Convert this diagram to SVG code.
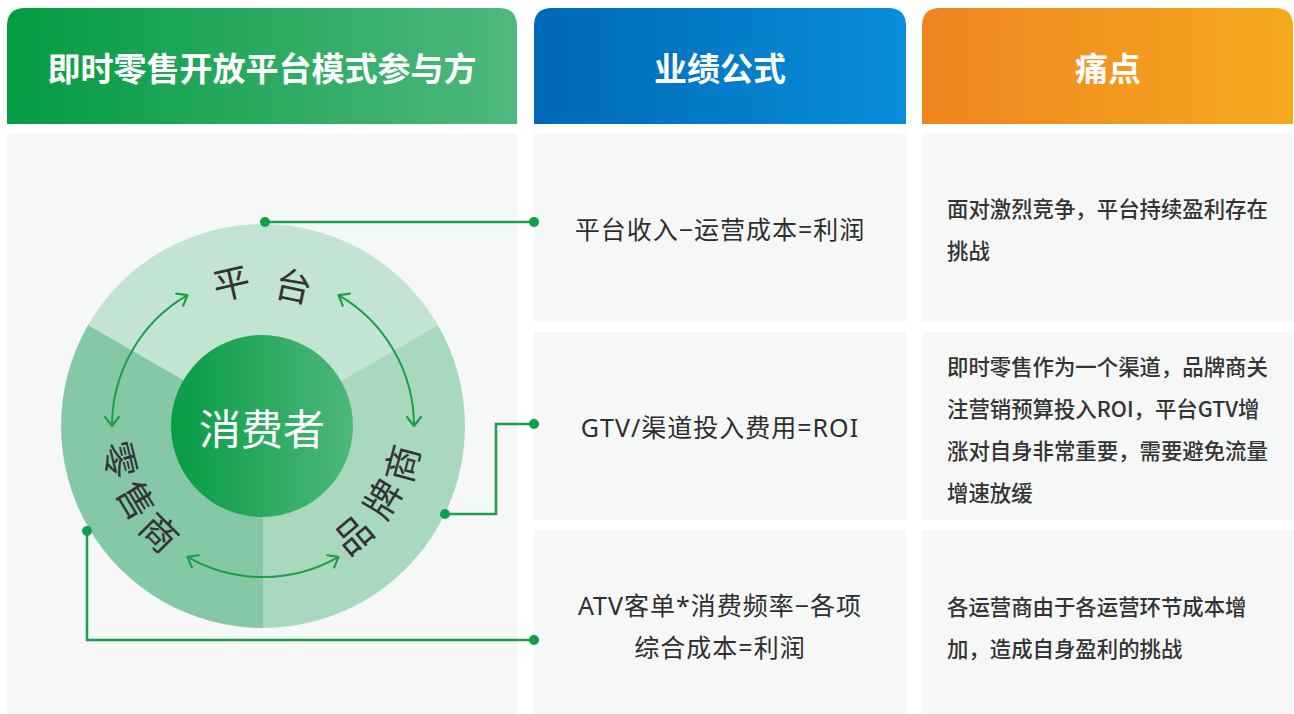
<svg xmlns="http://www.w3.org/2000/svg" width="1294" height="714" viewBox="0 0 1294 714">
  <style>
    .hdr { font-family: 'Noto Sans CJK SC', 'Noto Sans', sans-serif; font-size: 33px; font-weight: bold; fill: #ffffff; text-anchor: middle; dominant-baseline: central; }
    .panel { fill: #f6f7f7; }
    .formula { font-family: 'Noto Sans', 'Noto Sans CJK SC', sans-serif; font-size: 25px; font-weight: normal; fill: #2e2e2e; text-anchor: middle; dominant-baseline: central; letter-spacing: 1px; }
    .pain { font-family: 'Noto Sans CJK SC', 'Noto Sans', sans-serif; font-size: 21.4px; font-weight: 500; fill: #333333; dominant-baseline: central; }
    .ring { font-family: 'Noto Sans CJK SC', sans-serif; font-size: 37px; fill: #333333; text-anchor: middle; dominant-baseline: central; }
    .conn { fill: none; stroke: #18a04a; stroke-width: 2.5; }
    .dot { fill: #0f9f48; }
    .cyc { fill: none; stroke: #18a04a; stroke-width: 2; }
  </style>
  <defs>
    <linearGradient id="gGreen" x1="0" y1="0" x2="1" y2="0">
      <stop offset="0" stop-color="#049c42"/>
      <stop offset="1" stop-color="#4fb87e"/>
    </linearGradient>
    <linearGradient id="gBlue" x1="0" y1="0" x2="1" y2="0">
      <stop offset="0" stop-color="#0068b6"/>
      <stop offset="1" stop-color="#088edb"/>
    </linearGradient>
    <linearGradient id="gOrange" x1="0" y1="0" x2="1" y2="0">
      <stop offset="0" stop-color="#ef841f"/>
      <stop offset="1" stop-color="#f5aa1e"/>
    </linearGradient>
    <linearGradient id="gCore" x1="0" y1="0" x2="1" y2="0">
      <stop offset="0" stop-color="#079c43"/>
      <stop offset="1" stop-color="#4db77c"/>
    </linearGradient>
    <marker id="chev" markerUnits="userSpaceOnUse" markerWidth="24" markerHeight="24" viewBox="-12 -12 24 24" refX="0" refY="0" orient="auto-start-reverse">
      <path d="M-9,-7 L0,0 L-9,7" fill="none" stroke="#18a04a" stroke-width="2.2" stroke-linecap="round" stroke-linejoin="round"/>
    </marker>
  </defs>

  <rect width="1294" height="714" fill="#ffffff"/>

  <!-- Headers -->
  <g id="header-participants">
    <path d="M7,124 L7,26 Q7,8 25,8 L499,8 Q517,8 517,26 L517,124 Z" fill="url(#gGreen)"/>
    <text class="hdr" x="262" y="67">即时零售开放平台模式参与方</text>
  </g>
  <g id="header-formula">
    <path d="M534,124 L534,26 Q534,8 552,8 L888,8 Q906,8 906,26 L906,124 Z" fill="url(#gBlue)"/>
    <text class="hdr" x="720" y="67">业绩公式</text>
  </g>
  <g id="header-pain">
    <path d="M922,124 L922,26 Q922,8 940,8 L1275,8 Q1293,8 1293,26 L1293,124 Z" fill="url(#gOrange)"/>
    <text class="hdr" x="1108" y="67">痛点</text>
  </g>

  <!-- Panels -->
  <g id="panel-left">
    <rect class="panel" x="7" y="133" width="510" height="581"/>
  </g>
  <g id="formula-platform">
    <rect class="panel" x="534" y="133" width="372" height="189"/>
    <text class="formula" x="720" y="229">平台收入−运营成本=利润</text>
  </g>
  <g id="formula-brand">
    <rect class="panel" x="534" y="332" width="372" height="188"/>
    <text class="formula" x="720" y="427">GTV/渠道投入费用=ROI</text>
  </g>
  <g id="formula-retailer">
    <rect class="panel" x="534" y="530" width="372" height="184"/>
    <text class="formula" x="720" y="605">ATV客单*消费频率−各项</text>
    <text class="formula" x="720" y="647">综合成本=利润</text>
  </g>
  <g id="pain-platform">
    <rect class="panel" x="922" y="133" width="371" height="189"/>
    <text class="pain" x="947" y="207">面对激烈竞争，平台持续盈利存在</text>
    <text class="pain" x="947" y="249">挑战</text>
  </g>
  <g id="pain-brand">
    <rect class="panel" x="922" y="332" width="371" height="188"/>
    <text class="pain" x="947" y="365">即时零售作为一个渠道，品牌商关</text>
    <text class="pain" x="947" y="407">注营销预算投入ROI，平台GTV增</text>
    <text class="pain" x="947" y="449">涨对自身非常重要，需要避免流量</text>
    <text class="pain" x="947" y="491">增速放缓</text>
  </g>
  <g id="pain-retailer">
    <rect class="panel" x="922" y="530" width="371" height="184"/>
    <text class="pain" x="947" y="605">各运营商由于各运营环节成本增</text>
    <text class="pain" x="947" y="647">加，造成自身盈利的挑战</text>
  </g>

  <!-- Ring -->
  <g id="sector-platform">
    <path d="M263,426 L88.1,325 A202,202 0 0 1 437.9,325 Z" fill="#c3e3d3"/>
    <text class="ring" transform="translate(231,281) rotate(-13)">平</text>
    <text class="ring" transform="translate(294,284) rotate(12)">台</text>
  </g>
  <g id="sector-brand">
    <path d="M263,426 L437.9,325 A202,202 0 0 1 263,628 Z" fill="#a8d9bf"/>
    <text class="ring" transform="translate(352,533) rotate(-40)">品</text>
    <text class="ring" transform="translate(381,498) rotate(-59)">牌</text>
    <text class="ring" transform="translate(400,463) rotate(-75)">商</text>
  </g>
  <g id="sector-retailer">
    <path d="M263,426 L263,628 A202,202 0 0 1 88.1,325 Z" fill="#85c8a6"/>
    <text class="ring" transform="translate(122,459) rotate(76)">零</text>
    <text class="ring" transform="translate(138,499) rotate(59)">售</text>
    <text class="ring" transform="translate(161,531) rotate(45)">商</text>
  </g>
  <g id="consumer">
    <circle cx="262" cy="426" r="91" fill="url(#gCore)"/>
    <text x="262" y="426" font-family="'Noto Sans CJK SC', sans-serif" font-size="42" fill="#ffffff" text-anchor="middle" dominant-baseline="central">消费者</text>
  </g>

  <!-- Cycle arrows -->
  <g id="cycle-arrows">
    <path class="cyc" d="M187.5,295.2 A151,151 0 0 0 112,426" marker-start="url(#chev)" marker-end="url(#chev)"/>
    <path class="cyc" d="M338.5,295.2 A151,151 0 0 1 414,426" marker-start="url(#chev)" marker-end="url(#chev)"/>
    <path class="cyc" d="M187.5,556.8 A151,151 0 0 0 338.5,556.8" marker-start="url(#chev)" marker-end="url(#chev)"/>
  </g>

  <!-- Connectors -->
  <g id="connectors">
    <path class="conn" d="M265,222 L534,222"/>
    <path class="conn" d="M445,514 L496,514 L496,424 L534,424"/>
    <path class="conn" d="M87,531 L87,640 L534,640"/>
    <circle class="dot" cx="265" cy="222" r="5"/>
    <circle class="dot" cx="534" cy="222" r="5"/>
    <circle class="dot" cx="445" cy="514" r="5"/>
    <circle class="dot" cx="534" cy="424" r="5"/>
    <circle class="dot" cx="87" cy="531" r="5"/>
    <circle class="dot" cx="534" cy="640" r="5"/>
  </g>
</svg>
